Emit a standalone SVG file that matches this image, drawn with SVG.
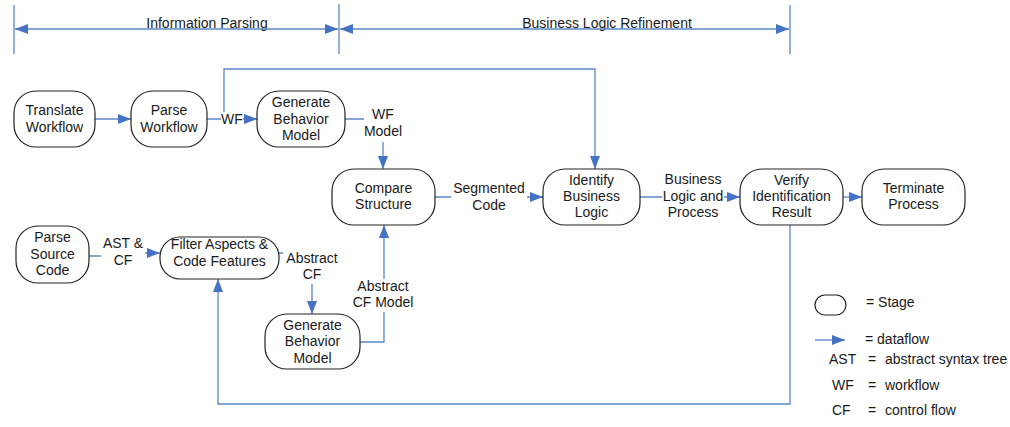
<svg xmlns="http://www.w3.org/2000/svg" width="1010" height="427" viewBox="0 0 1010 427">
<style>
text{font-family:"Liberation Sans",Arial,sans-serif;font-size:14px;fill:#1a1a1a;text-anchor:middle}
.l{text-anchor:start}
.node{fill:#fff;stroke:#222;stroke-width:1.2}
.c{fill:none;stroke:#5a87c9;stroke-width:1.3}
.bg{fill:#fff}
</style>
<defs>
<marker id="ah" markerUnits="userSpaceOnUse" markerWidth="14" markerHeight="10" refX="13" refY="5" orient="auto-start-reverse">
<path d="M0,0 L13,5 L0,10 z" fill="#4472c4"/>
</marker>
</defs>
<g id="header">
<line class="c" x1="14" y1="5" x2="14" y2="54"/>
<line class="c" x1="339" y1="4" x2="339" y2="54"/>
<line class="c" x1="790" y1="5" x2="790" y2="54"/>
<text x="207" y="28">Information Parsing</text>
<text x="607" y="28">Business Logic Refinement</text>
<line class="c" x1="15" y1="29" x2="338" y2="29" marker-start="url(#ah)" marker-end="url(#ah)"/>
<line class="c" x1="340" y1="29" x2="789" y2="29" marker-start="url(#ah)" marker-end="url(#ah)"/>
</g>
<g id="connectors">
<path class="c" d="M95,119 H131" marker-end="url(#ah)"/>
<path class="c" d="M207,119 H257" marker-end="url(#ah)"/>
<path class="c" d="M224,119 V69 H595 V169" marker-end="url(#ah)"/>
<path class="c" d="M345,119 H383 V169" marker-end="url(#ah)"/>
<path class="c" d="M435,197 H543" marker-end="url(#ah)"/>
<path class="c" d="M640,197 H740" marker-end="url(#ah)"/>
<path class="c" d="M843,197 H862" marker-end="url(#ah)"/>
<path class="c" d="M89,256 H124 V253 H160" marker-end="url(#ah)"/>
<path class="c" d="M279,253 H312 V314" marker-end="url(#ah)"/>
<path class="c" d="M360,342 H384 V225" marker-end="url(#ah)"/>
<path class="c" d="M790,225 V404 H218 V279" marker-end="url(#ah)"/>
</g>
<g id="labels">
<rect class="bg" x="221" y="112" width="22" height="14"/>
<text x="232" y="124">WF</text>
<rect class="bg" x="364" y="106" width="38" height="36"/>
<text x="383" y="119">WF</text>
<text x="383" y="136">Model</text>
<rect class="bg" x="451" y="181" width="76" height="33"/>
<text x="489" y="193">Segmented</text>
<text x="489" y="210">Code</text>
<rect class="bg" x="662" y="172" width="62" height="48"/>
<text x="693" y="184">Business</text>
<text x="693" y="201">Logic and</text>
<text x="693" y="217">Process</text>
<rect class="bg" x="101" y="236" width="44" height="34"/>
<text x="123" y="248">AST &amp;</text>
<text x="123" y="265">CF</text>
<rect class="bg" x="283" y="250" width="58" height="34"/>
<text x="312" y="263">Abstract</text>
<text x="312" y="279">CF</text>
<rect class="bg" x="352" y="279" width="62" height="33"/>
<text x="383" y="291">Abstract</text>
<text x="383" y="307">CF Model</text>
</g>
<g id="n-translate">
<rect class="node" x="14" y="91" width="81" height="56" rx="22" ry="22"/>
<text x="54.5" y="115">Translate</text>
<text x="54.5" y="132">Workflow</text>
</g>
<g id="n-parsewf">
<rect class="node" x="131" y="91" width="76" height="56" rx="22" ry="22"/>
<text x="169" y="115">Parse</text>
<text x="169" y="132">Workflow</text>
</g>
<g id="n-genwf">
<rect class="node" x="257" y="91" width="88" height="56" rx="22" ry="22"/>
<text x="301" y="107">Generate</text>
<text x="301" y="124">Behavior</text>
<text x="301" y="140">Model</text>
</g>
<g id="n-compare">
<rect class="node" x="332" y="169" width="103" height="56" rx="22" ry="22"/>
<text x="383.5" y="193">Compare</text>
<text x="383.5" y="209">Structure</text>
</g>
<g id="n-identify">
<rect class="node" x="543" y="169" width="97" height="56" rx="22" ry="22"/>
<text x="591.5" y="185">Identify</text>
<text x="591.5" y="201">Business</text>
<text x="591.5" y="217">Logic</text>
</g>
<g id="n-verify">
<rect class="node" x="740" y="169" width="103" height="56" rx="22" ry="22"/>
<text x="791.5" y="185">Verify</text>
<text x="791.5" y="201">Identification</text>
<text x="791.5" y="217">Result</text>
</g>
<g id="n-terminate">
<rect class="node" x="862" y="169" width="103" height="56" rx="22" ry="22"/>
<text x="913.5" y="193">Terminate</text>
<text x="913.5" y="209">Process</text>
</g>
<g id="n-parsesrc">
<rect class="node" x="16" y="226" width="73" height="57" rx="22" ry="22"/>
<text x="52.5" y="242">Parse</text>
<text x="52.5" y="259">Source</text>
<text x="52.5" y="275">Code</text>
</g>
<g id="n-filter">
<rect class="node" x="160" y="237" width="119" height="42" rx="20" ry="20"/>
<text x="219.5" y="249">Filter Aspects &amp;</text>
<text x="219.5" y="266">Code Features</text>
</g>
<g id="n-gencf">
<rect class="node" x="265" y="314" width="95" height="55" rx="22" ry="22"/>
<text x="312.5" y="330">Generate</text>
<text x="312.5" y="346">Behavior</text>
<text x="312.5" y="363">Model</text>
</g>
<g id="legend">
<rect class="node" x="815" y="295" width="31" height="20" rx="10" ry="10"/>
<text class="l" x="866" y="307">= Stage</text>
<path class="c" d="M815,340 H845" marker-end="url(#ah)"/>
<text class="l" x="865" y="344">= dataflow</text>
<text class="l" x="829" y="364">AST</text>
<text class="l" x="868" y="364">=</text>
<text class="l" x="885" y="364">abstract syntax tree</text>
<text class="l" x="832" y="390">WF</text>
<text class="l" x="868" y="390">=</text>
<text class="l" x="885" y="390">workflow</text>
<text class="l" x="832" y="415">CF</text>
<text class="l" x="868" y="415">=</text>
<text class="l" x="885" y="415">control flow</text>
</g>
</svg>
